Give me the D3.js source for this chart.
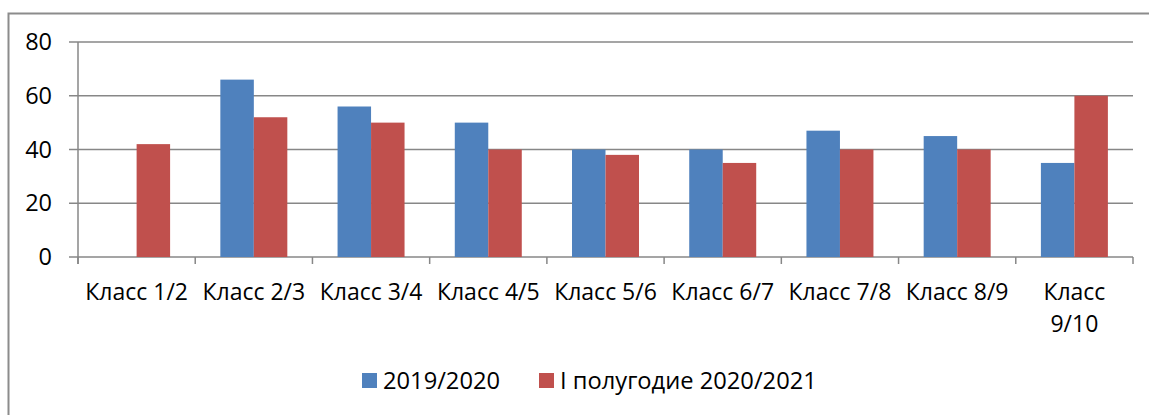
<!DOCTYPE html>
<html>
<head>
<meta charset="utf-8">
<script src="https://cdn.jsdelivr.net/npm/d3@7"></script>
<style>
  body { margin: 0; background: #fff; }
  text { font-family: 'Open Sans', 'Liberation Sans', sans-serif; fill: #000; }
</style>
</head>
<body>
<div class="chart"></div>
<script>
'use strict'

const categories = ['Класс 1/2', 'Класс 2/3', 'Класс 3/4', 'Класс 4/5', 'Класс 5/6',
                    'Класс 6/7', 'Класс 7/8', 'Класс 8/9', 'Класс 9/10']
const seriesNames = ['2019/2020', 'I полугодие 2020/2021']
const values2019 = [null, 66, 56, 50, 40, 40, 47, 45, 35]
const values2020 = [42, 52, 50, 40, 38, 35, 40, 40, 60]
const yTicks = [0, 20, 40, 60, 80]
const colors = ['#4F81BD', '#C0504D']

const width = 1149
const height = 415
const margin = { left: 78, right: 16, top: 42, bottom: 158 }
const gridColor = '#878787'

const svg = d3.select('.chart').append('svg')
    .attr('width', width)
    .attr('height', height)

// outer frame (runs off the right and bottom edge)
svg.append('path')
    .attr('d', `M8.5,${height + 5}V13.5H${width + 5}`)
    .style('fill', 'none')
    .style('stroke', '#8c8c8c')
    .style('stroke-width', 2)

const x = d3.scaleBand()
    .domain(categories)
    .range([margin.left, width - margin.right])

const x1 = d3.scaleBand()
    .domain(seriesNames)
    .range([0, x.bandwidth()])
    .paddingOuter(0.75)

const y = d3.scaleLinear()
    .domain([0, 80])
    .range([height - margin.bottom, margin.top])

// gridlines
svg.append('g')
    .selectAll('line')
    .data(yTicks)
    .enter().append('line')
      .attr('x1', margin.left - 9)
      .attr('x2', width - margin.right)
      .attr('y1', d => y(d))
      .attr('y2', d => y(d))
      .style('stroke', gridColor)
      .style('stroke-width', 1.5)

// y labels
svg.append('g')
    .selectAll('text')
    .data(yTicks)
    .enter().append('text')
      .attr('x', 52)
      .attr('y', d => y(d))
      .attr('dy', '0.35em')
      .style('text-anchor', 'end')
      .style('font-size', '23.5px')
      .text(d => d)

// bars
const rows = categories.map((c, i) => ({ cat: c, vals: [values2019[i], values2020[i]] }))

const groups = svg.append('g')
    .selectAll('g')
    .data(rows)
    .enter().append('g')
      .attr('transform', d => `translate(${x(d.cat)},0)`)

groups.selectAll('rect')
    .data(d => d.vals.map((v, j) => ({ v, s: seriesNames[j], j })).filter(e => e.v != null))
    .enter().append('rect')
      .attr('x', e => x1(e.s))
      .attr('width', x1.bandwidth())
      .attr('y', e => y(e.v))
      .attr('height', e => y(0) - y(e.v))
      .style('fill', e => colors[e.j])

// axis lines
svg.append('line')
    .attr('x1', margin.left).attr('x2', margin.left)
    .attr('y1', y(80)).attr('y2', y(0) + 7)
    .style('stroke', gridColor).style('stroke-width', 1.5)

svg.append('g')
    .selectAll('line')
    .data(categories.concat(['end']))
    .enter().append('line')
      .attr('x1', (d, i) => margin.left + i * x.step())
      .attr('x2', (d, i) => margin.left + i * x.step())
      .attr('y1', y(0))
      .attr('y2', y(0) + 7)
      .style('stroke', gridColor)
      .style('stroke-width', 1.5)

// category labels, wrap the last one like the original
const catLabel = svg.append('g')
    .selectAll('text')
    .data(categories)
    .enter().append('text')
      .attr('y', 300)
      .style('text-anchor', 'middle')
      .style('font-size', '23px')

catLabel.each(function(d) {
  const lines = d === 'Класс 9/10' ? ['Класс', '9/10'] : [d]
  const cx = x(d) + x.bandwidth() / 2
  d3.select(this).selectAll('tspan')
      .data(lines)
      .enter().append('tspan')
        .attr('x', cx)
        .attr('dy', (l, i) => i ? 32 : 0)
        .text(l => l)
})

// legend
const legend = svg.append('g')
    .selectAll('g')
    .data(seriesNames)
    .enter().append('g')
      .attr('transform', (d, i) => `translate(${i ? 539 : 362},373)`)

legend.append('rect')
    .attr('width', 15)
    .attr('height', 15)
    .style('fill', (d, i) => colors[i])

legend.append('text')
    .attr('x', 21)
    .attr('y', 16)
    .style('font-size', '23.7px')
    .text(d => d)
</script>
</body>
</html>
